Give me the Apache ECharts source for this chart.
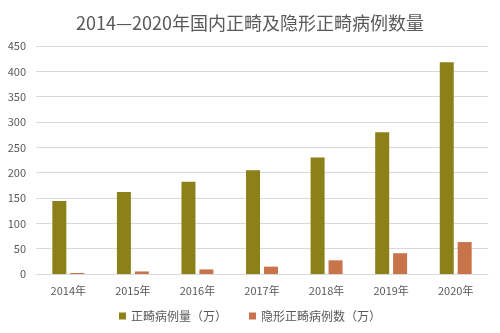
<!DOCTYPE html>
<html><head><meta charset="utf-8">
<script src="https://cdn.jsdelivr.net/npm/echarts@6/dist/echarts.min.js"></script>
<style>html,body{margin:0;padding:0;background:#fff}#c{width:500px;height:333px}</style>
</head><body><div id="c"></div>
<script>
const categories = ['2014年','2015年','2016年','2017年','2018年','2019年','2020年'];
const orthoCases = [144, 162, 182, 205, 230, 280, 418];
const invisibleCases = [2, 5, 9, 14.5, 27, 41, 63];
const seriesNames = ['正畸病例量（万）', '隐形正畸病例数（万）'];
const titleText = '2014—2020年国内正畸及隐形正畸病例数量';

const chart = echarts.init(document.getElementById('c'));
const font = '"Noto Sans CJK SC", "Noto Sans", sans-serif';
chart.setOption({
  animation: false,
  backgroundColor: '#fff',
  title: {
    text: titleText, left: 'center', top: 9,
    textStyle: { fontFamily: font, fontSize: 18, fontWeight: 'normal', color: '#595959' }
  },
  legend: {
    bottom: 6, left: 'center', itemWidth: 7, itemHeight: 7, itemGap: 22,
    icon: 'rect',
    textStyle: { fontFamily: font, fontSize: 12, color: '#595959' },
    data: seriesNames
  },
  grid: { left: 36, right: 12, top: 46, bottom: 59 },
  xAxis: {
    type: 'category', data: categories,
    axisLine: { lineStyle: { color: '#d9d9d9' } },
    axisTick: { show: false },
    axisLabel: { fontFamily: font, fontSize: 11, color: '#595959', margin: 11 }
  },
  yAxis: {
    type: 'value', min: 0, max: 450, interval: 50,
    axisLine: { show: false }, axisTick: { show: false },
    splitLine: { lineStyle: { color: '#d9d9d9' } },
    axisLabel: { fontFamily: font, fontSize: 11, color: '#595959', margin: 10 }
  },
  series: [
    { name: seriesNames[0], type: 'bar', data: orthoCases, barWidth: 14, barGap: '28%',
      itemStyle: { color: '#8C8019' } },
    { name: seriesNames[1], type: 'bar', data: invisibleCases, barWidth: 14,
      itemStyle: { color: '#C8734A' } }
  ]
});
</script></body></html>
